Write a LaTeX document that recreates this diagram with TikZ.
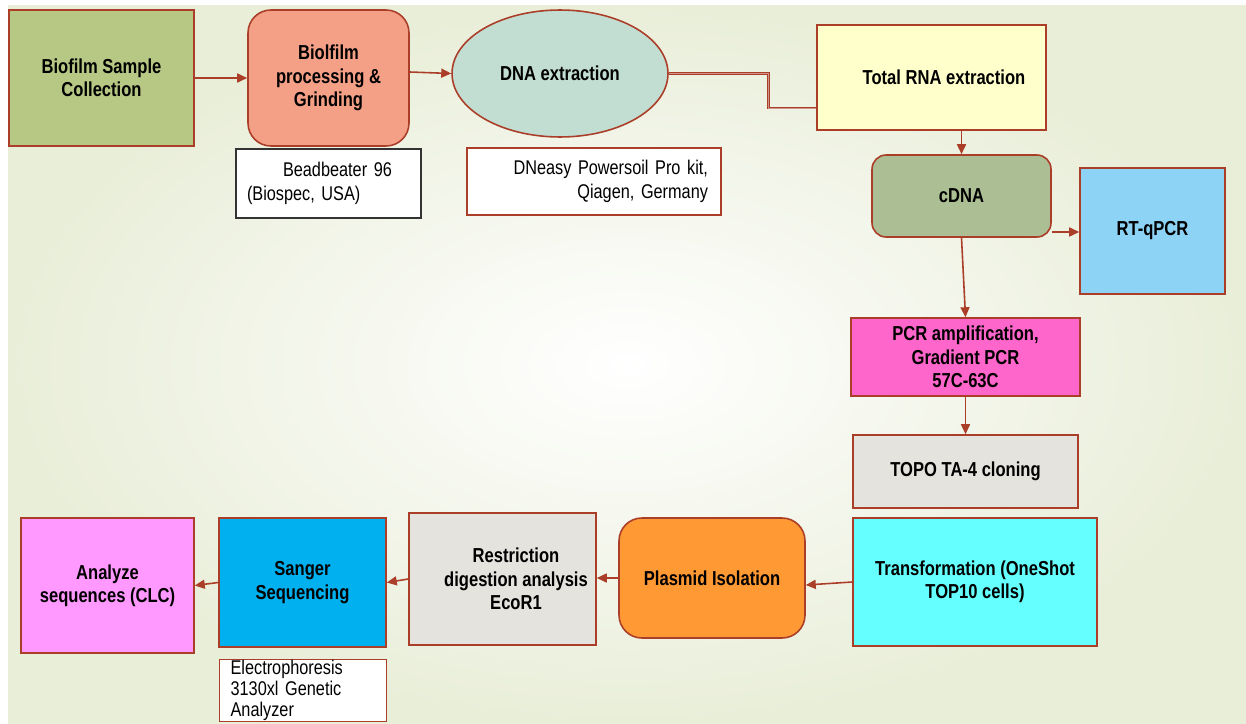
\documentclass[tikz,border=0pt]{standalone}
\usepackage{fontspec}
\setmainfont{Liberation Sans}[FakeStretch=0.82]
\usepackage{tikz}
\usetikzlibrary{positioning,arrows.meta,shapes.geometric,calc}
\definecolor{lnk}{RGB}{170,62,40}
\definecolor{bgout}{RGB}{233,238,217}
\definecolor{csample}{RGB}{183,200,132}
\definecolor{cgrind}{RGB}{244,160,134}
\definecolor{cdnaex}{RGB}{194,222,210}
\definecolor{crna}{RGB}{255,255,204}
\definecolor{ccdna}{RGB}{171,190,148}
\definecolor{cqpcr}{RGB}{141,211,245}
\definecolor{cpcr}{RGB}{255,102,204}
\definecolor{cgrey}{RGB}{229,227,221}
\definecolor{ctrans}{RGB}{102,255,255}
\definecolor{cplas}{RGB}{255,153,51}
\definecolor{csang}{RGB}{0,176,239}
\definecolor{canal}{RGB}{255,153,255}
\tikzset{
  box/.style={draw=lnk, line width=0.9pt, align=center, inner sep=3pt, font=\bfseries\fontsize{11.5}{13.3}\selectfont},
  rbox/.style={box, rounded corners=10pt},
  note/.style={draw=lnk, line width=0.7pt, fill=white, inner sep=0pt, font=\fontsize{11.3}{13.6}\selectfont},
  arr/.style={-{Triangle[length=2mm,width=1.8mm]}, line width=0.9pt, draw=lnk},
}
\begin{document}
\begin{tikzpicture}[x=0.02cm, y=-0.02cm]
  \useasboundingbox (0,0) rectangle (1246,723);
  \fill[white] (0,0) rectangle (1246,723);
  \shade[inner color=white, outer color=bgout] (8,6) rectangle (1246,723);
  % top row
  \node[box, fill=csample, minimum width=3.7cm, minimum height=2.72cm] (sample) at (101.5,78) {Biofilm Sample\\Collection};
  \node[rbox, rounded corners=13pt, fill=cgrind, minimum width=3.22cm, minimum height=2.72cm] (grind) at (328.5,78) {Biolfilm\\processing \&\\Grinding};
  \node[note, draw=black!80, minimum width=3.7cm, minimum height=1.38cm, text width=3.26cm, align=left] (bead) at (328.5,183.5) {\hspace*{0.72cm}Beadbeater 96\\(Biospec, USA)};
  \node[box, ellipse, fill=cdnaex, minimum width=4.32cm, minimum height=2.54cm] (dna) at (560,73.5) {DNA extraction};
  \node[note, minimum width=5.08cm, minimum height=1.34cm, text width=4.56cm, align=right] (kit) at (594,181.5) {DNeasy Powersoil Pro kit,\\Qiagen, Germany};
  \node[box, fill=crna, minimum width=4.58cm, minimum height=2.1cm] (rna) at (931.5,77.5) {\hspace*{0.5cm}Total RNA extraction};
  % right column
  \node[rbox, rounded corners=8pt, fill=ccdna, minimum width=3.58cm, minimum height=1.64cm] (cdna) at (961.5,196) {cDNA};
  \node[box, fill=cqpcr, minimum width=2.9cm, minimum height=2.52cm] (qpcr) at (1152.5,231) {RT-qPCR};
  \node[box, fill=cpcr, minimum width=4.58cm, minimum height=1.56cm] (pcr) at (965.5,357) {PCR amplification,\\Gradient PCR\\57C-63C};
  \node[box, fill=cgrey, minimum width=4.5cm, minimum height=1.46cm] (topo) at (965.5,471.5) {TOPO TA-4 cloning};
  \node[box, fill=ctrans, minimum width=4.88cm, minimum height=2.56cm] (trans) at (975,582) {Transformation (OneShot\\TOP10 cells)};
  % bottom row
  \node[rbox, rounded corners=13pt, fill=cplas, minimum width=3.72cm, minimum height=2.4cm] (plas) at (712,578) {Plasmid Isolation};
  \node[box, fill=cgrey, minimum width=3.74cm, minimum height=2.64cm] (restr) at (502.5,579) {\hspace*{0.54cm}Restriction\\\hspace*{0.54cm}digestion analysis\\\hspace*{0.54cm}EcoR1};
  \node[box, fill=csang, minimum width=3.34cm, minimum height=2.58cm] (sang) at (302.5,582.5) {Sanger\\Sequencing};
  \node[box, fill=canal, minimum width=3.46cm, minimum height=2.7cm] (anal) at (107.5,585.5) {Analyze\\sequences (CLC)};
  \node[note, anchor=north west, minimum width=3.34cm, text width=2.9cm, align=left, inner sep=0pt, inner xsep=0.22cm, inner ysep=0.5pt, font=\fontsize{11.3}{11.9}\selectfont] (elec) at (219,659) {Electrophoresis\\3130xl Genetic\\Analyzer\\[4pt]};
  % connectors
  \draw[arr] (sample.east) -- (grind.west);
  \draw[arr] ([yshift=0.12cm]grind.east) -- (dna.west);
  \draw[lnk, line width=0.5pt, double=lnk!55, double distance=0.5pt] (dna.east) -- ++(100,0) |- ([yshift=-0.61cm]rna.west);
  \draw[arr] (rna.south -| cdna.north) -- (cdna.north);
  \draw[arr] ([yshift=-0.72cm]cdna.east) -- ([yshift=-0.72cm]cdna.east -| qpcr.west);
  \draw[arr] (cdna.south) -- (pcr.north);
  \draw[arr] (pcr.south) -- (topo.north);
  \draw[arr] (trans.west) -- ([yshift=-0.14cm]plas.east);
  \draw[arr] (plas.west) -- (plas.west -| restr.east);
  \draw[arr] (restr.west) -- (sang.east);
  \draw[arr] (sang.west) -- (anal.east);
\end{tikzpicture}
\end{document}
